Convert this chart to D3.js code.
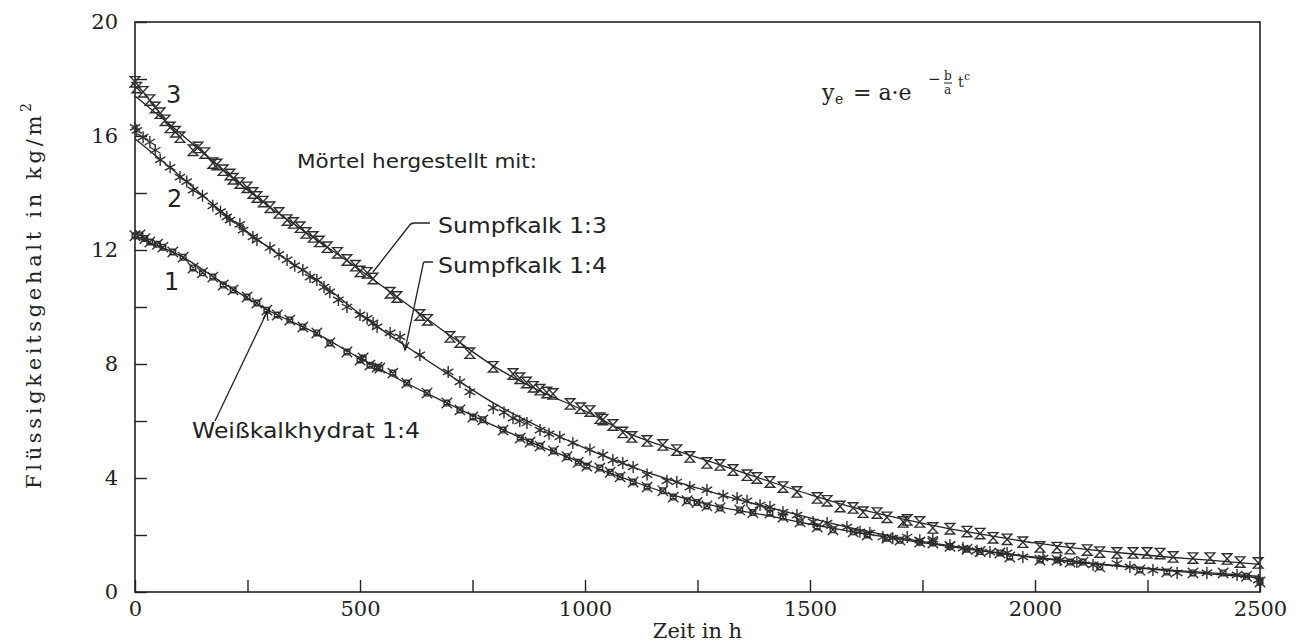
<!DOCTYPE html>
<html><head><meta charset="utf-8">
<script src="https://cdn.jsdelivr.net/npm/d3@7"></script>
<style>
html,body{margin:0;padding:0;background:#fff;}
svg{display:block;}
.tick text{font-family:"DejaVu Serif",serif;font-size:21px;fill:#222;}
</style></head>
<body>
<svg id="chart" width="1301" height="644"></svg>
<script>
// ---- data ----
const xTicks = [0,250,500,750,1000,1250,1500,1750,2000,2250,2500];
const yTicks = [0,2,4,6,8,10,12,14,16,18,20];
const seriesNames = ["Weißkalkhydrat 1:4","Sumpfkalk 1:4","Sumpfkalk 1:3"];
const curveT = [0,100,200,300,400,500,600,700,800,900,1000,1100,1200,1300,1400,1500,1600,1700,1800,1900,2000,2100,2200,2300,2400,2500];
const curve1 = [12.45,11.8,10.8,9.85,9.1,8.2,7.35,6.58,5.82,5.12,4.5,3.92,3.38,2.98,2.7,2.38,2.1,1.85,1.62,1.4,1.2,1.03,0.88,0.74,0.62,0.5];
const curve2 = [15.9,14.6,13.25,12.05,11.0,9.75,8.65,7.6,6.6,5.78,5.05,4.42,3.88,3.42,3.0,2.6,2.22,1.9,1.65,1.42,1.22,1.05,0.9,0.77,0.66,0.55];
const curve3 = [17.4,16.1,14.75,13.5,12.4,11.3,10.15,9.0,7.9,7.05,6.35,5.55,4.98,4.46,3.93,3.42,2.95,2.58,2.25,1.98,1.72,1.52,1.36,1.22,1.1,0.97];

const points1 = [[0,12.5],[11,12.53],[22,12.4],[33,12.28],[50,12.2],[62,12.1],[84,11.93],[107,11.75],[129,11.37],[150,11.2],[173,11.05],[196,10.77],[218,10.6],[249,10.35],[271,10.14],[293,9.89],[316,9.72],[344,9.54],[373,9.3],[404,9.09],[433,8.74],[471,8.42],[500,8.14],[507,8.21],[522,7.96],[538,7.89],[544,7.86],[573,7.68],[604,7.33],[649,6.98],[693,6.63],[722,6.39],[751,6.14],[773,6.04],[818,5.68],[856,5.4],[878,5.26],[900,5.12],[930,4.95],[960,4.75],[985,4.55],[1004,4.42],[1033,4.35],[1056,4.2],[1078,4.04],[1107,3.86],[1138,3.68],[1173,3.55],[1196,3.33],[1227,3.2],[1249,3.14],[1271,3.02],[1300,2.95],[1344,2.88],[1373,2.79],[1411,2.77],[1440,2.63],[1478,2.46],[1516,2.28],[1551,2.18],[1596,2.11],[1627,2.0],[1671,1.89],[1700,1.82],[1744,1.75],[1773,1.72],[1811,1.6],[1849,1.5],[1878,1.42],[1922,1.37],[1944,1.23],[2011,1.12],[2049,1.12],[2078,1.05],[2107,1.05],[2144,0.88],[2233,0.77],[2293,0.7],[2351,0.67],[2418,0.67],[2470,0.55],[2500,0.35]];
const points2 = [[0,16.3],[4,16.2],[18,15.96],[33,15.79],[45,15.5],[56,15.16],[78,14.9],[100,14.56],[115,14.4],[129,14.1],[150,13.9],[173,13.55],[190,13.35],[204,13.16],[211,13.05],[233,12.9],[240,12.7],[262,12.46],[271,12.35],[300,12.08],[320,11.85],[338,11.65],[355,11.45],[373,11.3],[389,11.05],[404,10.95],[420,10.7],[433,10.53],[452,10.25],[471,10.0],[500,9.72],[516,9.6],[529,9.44],[538,9.3],[567,9.09],[589,8.95],[633,8.32],[696,7.72],[722,7.37],[744,7.02],[796,6.46],[820,6.3],[840,6.1],[855,6.0],[871,5.93],[900,5.68],[920,5.55],[944,5.44],[973,5.23],[1011,5.0],[1040,4.81],[1062,4.63],[1084,4.53],[1107,4.39],[1138,4.12],[1182,3.9],[1204,3.86],[1233,3.68],[1271,3.58],[1307,3.38],[1338,3.3],[1360,3.2],[1389,3.05],[1411,2.98],[1440,2.8],[1471,2.7],[1507,2.46],[1538,2.42],[1582,2.28],[1611,2.11],[1633,2.07],[1662,1.93],[1684,1.89],[1716,1.93],[1744,1.82],[1773,1.85],[1811,1.65],[1840,1.54],[1871,1.45],[1900,1.4],[1938,1.37],[1973,1.23],[2018,1.19],[2056,1.12],[2093,1.05],[2129,0.95],[2182,1.0],[2211,0.88],[2262,0.77],[2316,0.67],[2382,0.67],[2449,0.6],[2496,0.42]];
const points3 = [[0,17.9],[4,17.7],[18,17.55],[33,17.26],[45,17.0],[56,16.8],[67,16.55],[78,16.3],[90,16.15],[100,15.96],[129,15.5],[140,15.6],[155,15.4],[173,15.05],[182,15.0],[196,14.8],[211,14.65],[218,14.5],[233,14.35],[249,14.2],[262,14.0],[271,13.86],[285,13.7],[300,13.5],[320,13.3],[338,13.05],[352,12.95],[367,12.8],[380,12.6],[396,12.46],[410,12.3],[427,12.1],[450,11.9],[471,11.65],[490,11.45],[500,11.25],[516,11.2],[529,11.0],[567,10.5],[582,10.35],[633,9.72],[650,9.55],[700,8.95],[722,8.77],[744,8.38],[796,7.9],[840,7.65],[855,7.5],[870,7.35],[885,7.2],[900,7.1],[915,7.0],[929,6.95],[967,6.6],[990,6.45],[1011,6.35],[1033,6.1],[1040,6.05],[1062,5.86],[1084,5.6],[1104,5.44],[1138,5.3],[1173,5.16],[1204,4.98],[1233,4.74],[1271,4.53],[1300,4.46],[1329,4.28],[1360,4.1],[1382,4.0],[1411,3.86],[1440,3.68],[1471,3.51],[1516,3.3],[1538,3.2],[1567,3.0],[1596,2.95],[1618,2.8],[1649,2.77],[1671,2.62],[1707,2.46],[1716,2.53],[1744,2.46],[1773,2.25],[1811,2.22],[1849,2.12],[1878,2.05],[1907,1.9],[1938,1.85],[1973,1.75],[2011,1.58],[2049,1.56],[2078,1.52],[2116,1.47],[2144,1.4],[2182,1.37],[2218,1.37],[2249,1.37],[2278,1.35],[2307,1.23],[2351,1.19],[2389,1.19],[2427,1.16],[2456,1.05],[2496,1.02]];

// ---- layout ----
const L=135, R=1260, T=22, B=592;
const svg = d3.select("#chart");
const x = d3.scaleLinear().domain([0,2500]).range([L,R]);
const y = d3.scaleLinear().domain([0,20]).range([B,T]);
const ink = "#222";

// axes
const gx = svg.append("g").attr("transform",`translate(0,${B})`)
  .call(d3.axisBottom(x).tickValues(xTicks).tickSize(-12).tickPadding(9)
        .tickFormat(d => d%500===0 ? d : ""));
const gy = svg.append("g").attr("transform",`translate(${L},0)`)
  .call(d3.axisLeft(y).tickValues(yTicks).tickSize(-12).tickPadding(17)
        .tickFormat(d => d%4===0 ? d : ""));
[gx,gy].forEach(g=>{
  g.select(".domain").remove();
  g.selectAll(".tick line").attr("stroke",ink).attr("stroke-width",1.4);
  g.selectAll(".tick text").attr("fill",ink);
});
svg.append("rect").attr("x",L).attr("y",T).attr("width",R-L).attr("height",B-T)
  .attr("fill","none").attr("stroke",ink).attr("stroke-width",1.6);

// axis titles
svg.append("text").attr("x",(L+R)/2).attr("y",638).attr("text-anchor","middle")
  .attr("font-family","DejaVu Serif, serif").attr("font-size",21).attr("fill",ink).text("Zeit in h");
const yl = svg.append("text").attr("transform","translate(41,296) rotate(-90)").attr("text-anchor","middle")
  .attr("font-family","DejaVu Serif, serif").attr("font-size",21).attr("fill",ink)
  .attr("textLength",386).attr("lengthAdjust","spacing");
yl.append("tspan").text("Flüssigkeitsgehalt in kg/m");
yl.append("tspan").attr("font-size",14).attr("dy",-10).text("2");

// curves
const line = d3.line().x(d=>x(d[0])).y(d=>y(d[1])).curve(d3.curveMonotoneX);
[curve1,curve2,curve3].forEach(c=>{
  svg.append("path").datum(curveT.map((t,i)=>[t,c[i]])).attr("d",line)
    .attr("fill","none").attr("stroke",ink).attr("stroke-width",1.3);
});

// markers
const sym1 = "M-2.8,-2.8h5.6v5.6h-5.6Z M-5.2,-5.2L5.2,5.2 M-5.2,5.2L5.2,-5.2";
const sym2 = "M0,-6V6 M-5.2,-3L5.2,3 M-5.2,3L5.2,-3";
const sym3 = "M-4.8,-5.2H4.8L-4.8,5.2H4.8Z";
[[points1,sym1],[points2,sym2],[points3,sym3]].forEach(([pts,sym])=>{
  svg.append("g").selectAll("path").data(pts).join("path")
    .attr("transform",d=>`translate(${x(d[0])},${y(d[1])})`)
    .attr("d",sym).attr("fill","none").attr("stroke","#2e2e2e").attr("stroke-width",1.4);
});

// annotations
const sans = "DejaVu Sans, sans-serif";
function lab(tx,ty,s,len,size){
  const t = svg.append("text").attr("x",tx).attr("y",ty).attr("font-family",sans)
    .attr("font-size",size||21).attr("fill",ink).text(s);
  if(len) t.attr("textLength",len).attr("lengthAdjust","spacingAndGlyphs");
  return t;
}
lab(297,168,"Mörtel hergestellt mit:",240,20);
lab(438,233,seriesNames[2],169);
lab(438,273,seriesNames[1],169);
lab(192,438,seriesNames[0],228);
lab(166,103,"3",null,24);
lab(167,207,"2",null,24);
lab(164,290,"1",null,24);

const lk = svg.append("g").attr("fill","none").attr("stroke",ink).attr("stroke-width",1.3);
lk.append("path").attr("d","M430,223 H414 Q411,223 409,226 L373,272");
lk.append("path").attr("d","M433,262 H425 Q423,262 423,265 L405,350");
lk.append("path").attr("d","M402,341 L405,350 L409,342");
lk.append("path").attr("d","M215,421 L267,312");
lk.append("path").attr("d","M263,319 L267,312 L268,321");

// formula
const serif = "DejaVu Serif, serif";
const f = svg.append("g").attr("font-family",serif).attr("fill",ink);
f.append("text").attr("x",822).attr("y",100).attr("font-size",22).text("y");
f.append("text").attr("x",835).attr("y",104).attr("font-size",14).text("e");
f.append("text").attr("x",853).attr("y",100).attr("font-size",22).text("=  a·e");
f.append("text").attr("x",928).attr("y",84).attr("font-size",15).text("−");
f.append("text").attr("x",944).attr("y",80).attr("font-size",12).text("b");
f.append("line").attr("x1",944).attr("x2",952).attr("y1",83).attr("y2",83).attr("stroke",ink).attr("stroke-width",1);
f.append("text").attr("x",944).attr("y",94).attr("font-size",12).text("a");
f.append("text").attr("x",958).attr("y",87).attr("font-size",14).text("t");
f.append("text").attr("x",964).attr("y",80).attr("font-size",11).text("c");
</script>
</body></html>
